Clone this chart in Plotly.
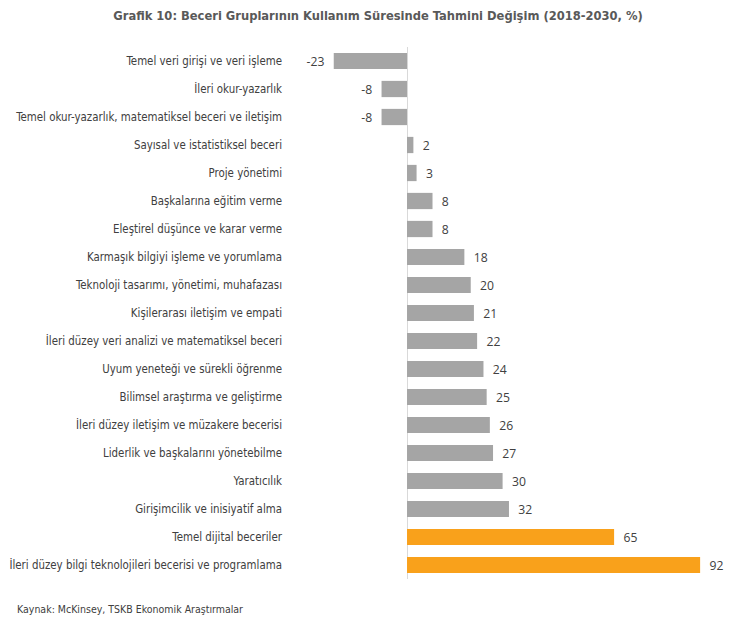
import plotly.graph_objects as go

# skill groups, top to bottom
skills = [
    "Temel veri girişi ve veri işleme",
    "İleri okur-yazarlık",
    "Temel okur-yazarlık, matematiksel beceri ve iletişim",
    "Sayısal ve istatistiksel beceri",
    "Proje yönetimi",
    "Başkalarına eğitim verme",
    "Eleştirel düşünce ve karar verme",
    "Karmaşık bilgiyi işleme ve yorumlama",
    "Teknoloji tasarımı, yönetimi, muhafazası",
    "Kişilerarası iletişim ve empati",
    "İleri düzey veri analizi ve matematiksel beceri",
    "Uyum yeneteği ve sürekli öğrenme",
    "Bilimsel araştırma ve geliştirme",
    "İleri düzey iletişim ve müzakere becerisi",
    "Liderlik ve başkalarını yönetebilme",
    "Yaratıcılık",
    "Girişimcilik ve inisiyatif alma",
    "Temel dijital beceriler",
    "İleri düzey bilgi teknolojileri becerisi ve programlama",
]
change = [-23, -8, -8, 2, 3, 8, 8, 18, 20, 21, 22, 24, 25, 26, 27, 30, 32, 65, 92]
highlight = ["Temel dijital beceriler",
             "İleri düzey bilgi teknolojileri becerisi ve programlama"]

colors = ["#F9A11B" if s in highlight else "#A5A5A5" for s in skills]
# labels pushed a bit away from the bar ends, like the Excel original
labels = [f"{v}\u00a0\u00a0" if v < 0 else f"\u00a0\u00a0{v}" for v in change]

narrow = "DejaVu Sans Condensed, sans-serif"

fig = go.Figure()
fig.add_trace(go.Bar(
    x=change, y=skills, orientation="h",
    marker=dict(color=colors, line=dict(width=0)),
    text=labels,
    textposition="outside",
    textfont=dict(family="Open Sans, sans-serif", size=13.5, color="#404040"),
    cliponaxis=False,
    width=0.58,
))

# the page has an 8px body margin, so everything sits 8px up/left of the target
fig.update_layout(
    width=739, height=623,
    paper_bgcolor="white", plot_bgcolor="white",
    margin=dict(l=280, r=30, t=39, b=52),
    showlegend=False,
    title=dict(
        text="<b>Grafik 10: Beceri Gruplarının Kullanım Süresinde Tahmini Değişim (2018-2030, %)</b>",
        x=370 / 739, xanchor="center", yref="container", y=1 - 8 / 623, yanchor="middle",
        font=dict(family=narrow, size=12.8, color="#595959"),
    ),
    xaxis=dict(range=[-37.36, 97.3], showgrid=False, showticklabels=False,
               zeroline=True, zerolinecolor="#D9D9D9", zerolinewidth=1,
               fixedrange=True, automargin=False),
    yaxis=dict(autorange="reversed", showgrid=False, ticks="",
               tickfont=dict(family=narrow, size=11.4, color="#404040"),
               ticklabelstandoff=5, fixedrange=True, automargin=False),
)

fig.add_annotation(
    text="Kaynak: McKinsey, TSKB Ekonomik Araştırmalar",
    xref="paper", yref="paper", x=-273 / 429, y=-0.0564,
    xanchor="left", yanchor="middle", showarrow=False,
    font=dict(family=narrow, size=10.5, color="#404040"),
)

fig.write_html("out.html")
